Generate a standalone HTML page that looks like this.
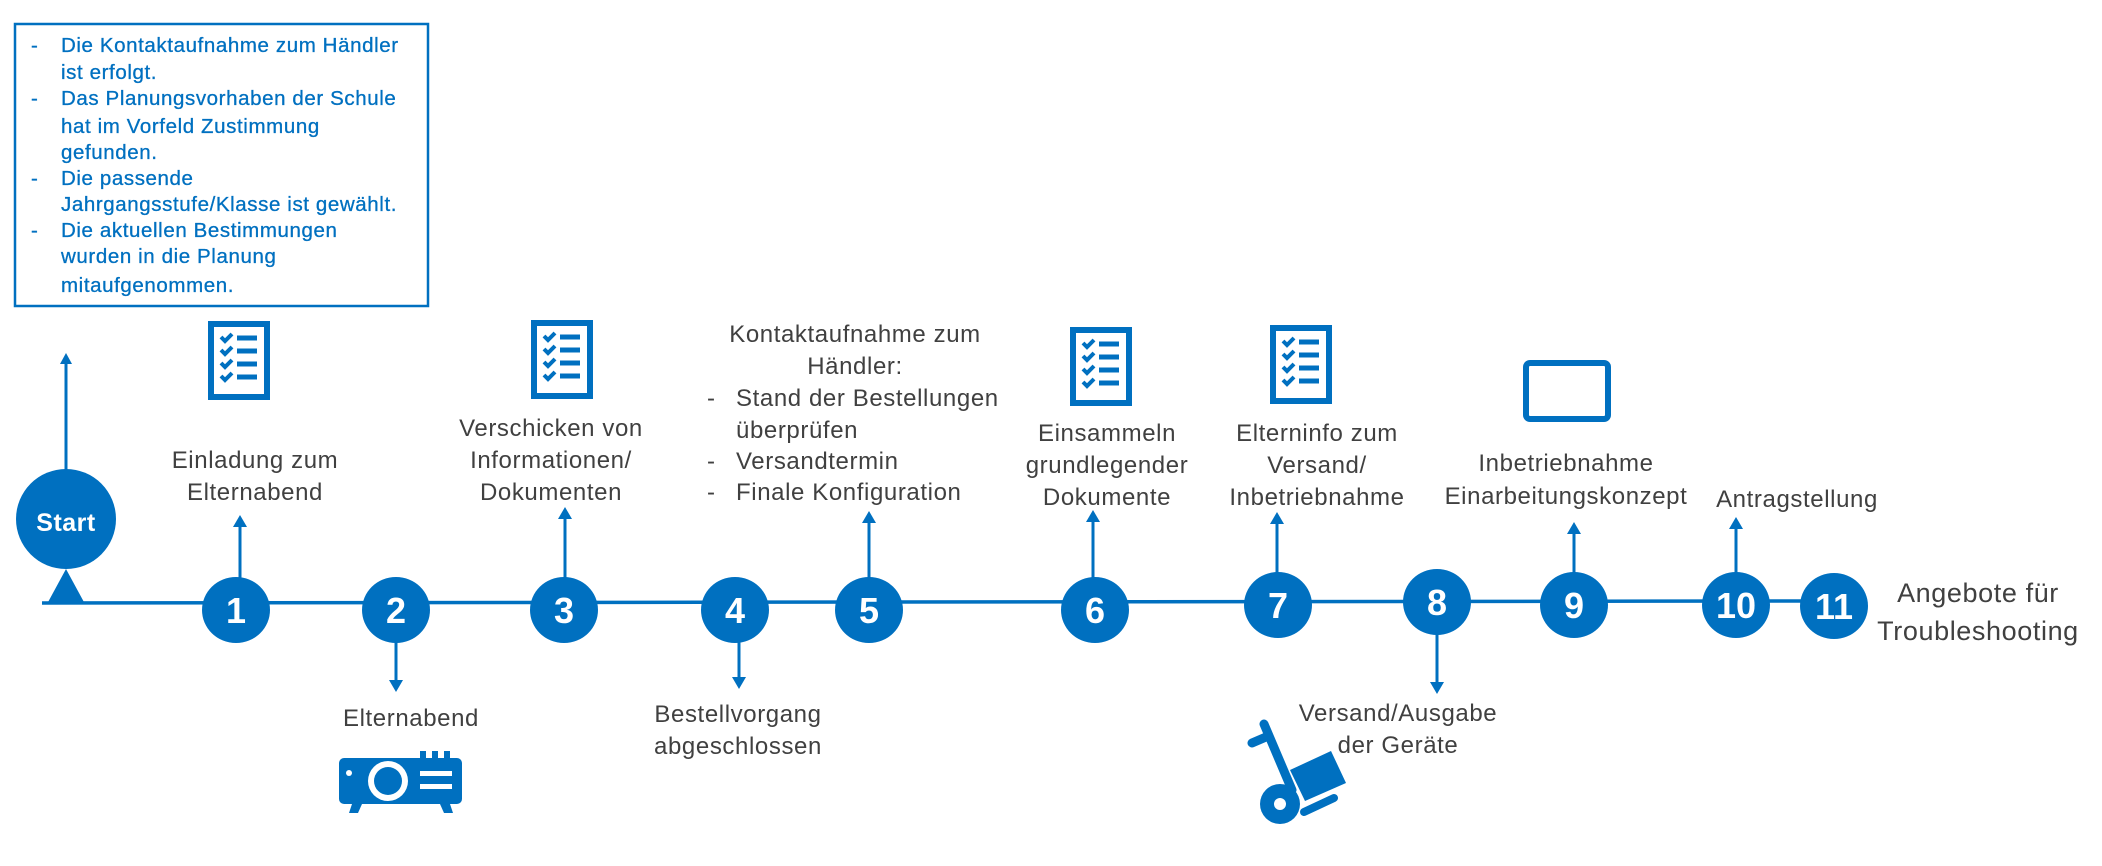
<!DOCTYPE html>
<html><head><meta charset="utf-8"><style>
html,body{margin:0;padding:0;background:#fff;}
svg{display:block;}
text{font-family:"Liberation Sans","DejaVu Sans",sans-serif;}
.g{fill:#404040;font-size:24px;letter-spacing:0.6px;}
.b{fill:#0070C0;font-size:20.5px;letter-spacing:0.6px;stroke:#0070C0;stroke-width:0.3px;}
.n{fill:#fff;font-size:36px;font-weight:bold;}
</style></head><body>
<svg width="2102" height="866" viewBox="0 0 2102 866" xmlns="http://www.w3.org/2000/svg">
<defs>
<g id="chk">
<rect x="3" y="3" width="56" height="73" fill="none" stroke="#0070C0" stroke-width="6"/>
<g stroke="#0070C0" stroke-width="4" fill="none">
<path d="M13 16 l4 4 l7 -7 M13 29 l4 4 l7 -7 M13 42 l4 4 l7 -7 M13 55 l4 4 l7 -7"/>
<path d="M29 17 h20 M29 30 h20 M29 43 h20 M29 56 h20" stroke-width="5"/>
</g>
</g>
</defs>
<rect x="15" y="24" width="413" height="282" fill="none" stroke="#0070C0" stroke-width="2.5"/>
<g class="b">
<text x="31" y="52">-</text><text x="61" y="52">Die Kontaktaufnahme zum Händler</text>
<text x="61" y="79">ist erfolgt.</text>
<text x="31" y="105">-</text><text x="61" y="105">Das Planungsvorhaben der Schule</text>
<text x="61" y="133">hat im Vorfeld Zustimmung</text>
<text x="61" y="159">gefunden.</text>
<text x="31" y="185">-</text><text x="61" y="185">Die passende</text>
<text x="61" y="211">Jahrgangsstufe/Klasse ist gewählt.</text>
<text x="31" y="237">-</text><text x="61" y="237">Die aktuellen Bestimmungen</text>
<text x="61" y="263">wurden in die Planung</text>
<text x="61" y="292">mitaufgenommen.</text>
</g>
<line x1="42" y1="603" x2="1810" y2="601" stroke="#0070C0" stroke-width="3.5"/>
<line x1="66" y1="362" x2="66" y2="470" stroke="#0070C0" stroke-width="3"/>
<polygon points="60,364 72,364 66,353" fill="#0070C0"/>
<circle cx="66" cy="519" r="50" fill="#0070C0"/>
<polygon points="47,604 85,604 66,569" fill="#0070C0"/>
<text x="66" y="531" text-anchor="middle" style="fill:#fff;font-size:25px;letter-spacing:0.5px;font-weight:600">Start</text>
<g stroke="#0070C0" stroke-width="3">
<line x1="240" y1="580" x2="240" y2="525"/>
<line x1="396" y1="640" x2="396" y2="682"/>
<line x1="565" y1="580" x2="565" y2="517"/>
<line x1="739" y1="640" x2="739" y2="679"/>
<line x1="869" y1="580" x2="869" y2="521"/>
<line x1="1093" y1="580" x2="1093" y2="520"/>
<line x1="1277" y1="575" x2="1277" y2="522"/>
<line x1="1437" y1="632" x2="1437" y2="684"/>
<line x1="1574" y1="575" x2="1574" y2="532"/>
<line x1="1736" y1="575" x2="1736" y2="527"/>
</g>
<g fill="#0070C0">
<polygon points="233,527 247,527 240,515"/>
<polygon points="389,680 403,680 396,692"/>
<polygon points="558,519 572,519 565,507"/>
<polygon points="732,677 746,677 739,689"/>
<polygon points="862,523 876,523 869,511"/>
<polygon points="1086,522 1100,522 1093,510"/>
<polygon points="1270,524 1284,524 1277,512"/>
<polygon points="1430,682 1444,682 1437,694"/>
<polygon points="1567,534 1581,534 1574,522"/>
<polygon points="1729,529 1743,529 1736,517"/>
</g>
<g fill="#0070C0">
<ellipse cx="236" cy="610" rx="34" ry="33"/>
<ellipse cx="396" cy="610" rx="34" ry="33"/>
<ellipse cx="564" cy="610" rx="34" ry="33"/>
<ellipse cx="735" cy="610" rx="34" ry="33"/>
<ellipse cx="869" cy="610" rx="34" ry="33"/>
<ellipse cx="1095" cy="610" rx="34" ry="33"/>
<ellipse cx="1278" cy="605" rx="34" ry="33"/>
<ellipse cx="1437" cy="602" rx="34" ry="33"/>
<ellipse cx="1574" cy="605" rx="34" ry="33"/>
<ellipse cx="1736" cy="605" rx="34" ry="33"/>
<ellipse cx="1834" cy="606" rx="34" ry="33"/>
</g>
<g class="n" text-anchor="middle">
<text x="236" y="623">1</text><text x="396" y="623">2</text><text x="564" y="623">3</text>
<text x="735" y="623">4</text><text x="869" y="623">5</text><text x="1095" y="623">6</text>
<text x="1278" y="618">7</text><text x="1437" y="615">8</text><text x="1574" y="618">9</text>
<text x="1736" y="618">10</text><text x="1834" y="619">11</text>
</g>
<g class="g" text-anchor="middle">
<text x="255" y="468">Einladung zum</text><text x="255" y="500">Elternabend</text>
<text x="551" y="436">Verschicken von</text><text x="551" y="468">Informationen/</text><text x="551" y="500">Dokumenten</text>
<text x="411" y="726">Elternabend</text>
<text x="738" y="722">Bestellvorgang</text><text x="738" y="754">abgeschlossen</text>
<text x="855" y="342">Kontaktaufnahme zum</text><text x="855" y="374">Händler:</text>
<text x="1107" y="441">Einsammeln</text><text x="1107" y="473">grundlegender</text><text x="1107" y="505">Dokumente</text>
<text x="1317" y="441">Elterninfo zum</text><text x="1317" y="473">Versand/</text><text x="1317" y="505">Inbetriebnahme</text>
<text x="1398" y="721">Versand/Ausgabe</text><text x="1398" y="753">der Geräte</text>
<text x="1566" y="471">Inbetriebnahme</text><text x="1566" y="504">Einarbeitungskonzept</text>
<text x="1797" y="507">Antragstellung</text>
</g>
<g class="g">
<text x="707" y="406">-</text><text x="736" y="406">Stand der Bestellungen</text>
<text x="736" y="438">überprüfen</text>
<text x="707" y="469">-</text><text x="736" y="469">Versandtermin</text>
<text x="707" y="500">-</text><text x="736" y="500">Finale Konfiguration</text>
</g>
<g class="g" text-anchor="middle" style="font-size:27px">
<text x="1978" y="602">Angebote für</text><text x="1978" y="640">Troubleshooting</text>
</g>
<use href="#chk" x="208" y="321"/>
<use href="#chk" x="531" y="320"/>
<use href="#chk" x="1070" y="327"/>
<use href="#chk" x="1270" y="325"/>
<g fill="#0070C0">
<rect x="339" y="758" width="123" height="46" rx="5"/>
<polygon points="352,804 362,804 358,813 349,813"/>
<polygon points="440,804 450,804 453,813 444,813"/>
<rect x="420" y="751" width="6" height="9"/><rect x="432" y="751" width="6" height="9"/><rect x="444" y="751" width="6" height="9"/>
</g>
<circle cx="388" cy="781" r="20" fill="#fff"/>
<circle cx="388" cy="781" r="14" fill="#0070C0"/>
<circle cx="349" cy="773" r="3" fill="#fff"/>
<rect x="420" y="771" width="32" height="5" fill="#fff"/>
<rect x="420" y="784" width="32" height="5" fill="#fff"/>
<g stroke="#0070C0" stroke-linecap="round" fill="none">
<line x1="1264" y1="724" x2="1292" y2="790" stroke-width="9"/>
<line x1="1252" y1="743" x2="1266" y2="737" stroke-width="9"/>
<line x1="1304" y1="812" x2="1334" y2="798" stroke-width="8"/>
</g>
<polygon points="1290,770 1331,751 1346,783 1305,801" fill="#0070C0"/>
<circle cx="1280" cy="804" r="20" fill="#0070C0"/>
<circle cx="1280" cy="804" r="6" fill="#fff"/>
<rect x="1526" y="363" width="82" height="56" rx="4" fill="none" stroke="#0070C0" stroke-width="6"/>
<rect x="1561" y="414" width="12" height="2" fill="#fff"/>
</svg>
</body></html>
